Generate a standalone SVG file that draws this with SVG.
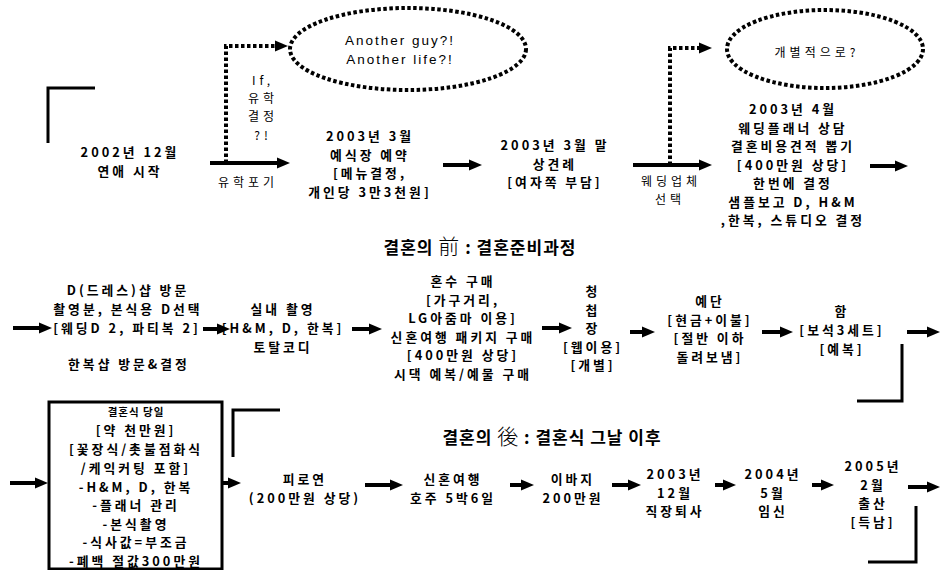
<svg xmlns="http://www.w3.org/2000/svg" width="941" height="570" viewBox="0 0 941 570">
<defs>
<marker id="ah" markerUnits="userSpaceOnUse" markerWidth="14" markerHeight="12" refX="4" refY="6" orient="auto">
<path d="M0,0.5 L13,6 L0,11.5 z" fill="#000"/>
</marker>
<style>
.t{font-family:"Noto Sans CJK KR","Noto Sans",sans-serif;font-weight:bold;font-size:12.8px;letter-spacing:3px;text-anchor:middle;fill:#000}
.l{font-family:"Noto Sans CJK KR","Noto Sans",sans-serif;font-weight:normal;font-size:12px;letter-spacing:4px;text-anchor:middle;fill:#000}
.e{font-family:"Liberation Sans","Noto Sans CJK KR",sans-serif;font-size:13.5px;letter-spacing:2px;text-anchor:middle;fill:#000}
.h{font-family:"Noto Sans CJK KR",sans-serif;font-weight:bold;font-size:17px;letter-spacing:1px;text-anchor:middle;fill:#000}
.hz{font-family:"Noto Sans CJK KR",sans-serif;font-weight:300;font-size:21px}
.s{stroke:#000;stroke-width:4;fill:none}
.d{stroke:#000;stroke-width:4;fill:none;stroke-dasharray:3.5 2.5}
.a{marker-end:url(#ah)}
.b{stroke:#000;stroke-width:3;fill:none}
</style>
</defs>
<rect width="941" height="570" fill="#fff"/>

<g id="decor">
<path class="b" d="M48,143 L48,88 L95,88"/>
<path class="b" d="M902,344 L902,401 L857,401"/>
<path class="b" d="M233,457 L233,410 L280,410"/>
<path class="b" d="M916,506 L916,562 L868,562"/>
</g>

<g id="connectors">
<path class="s a" d="M210,163 L281,163"/>
<path class="d a" d="M226,163 L226,46 L279,46"/>
<path class="s a" d="M443,165 L473,165"/>
<path class="s a" d="M633,165 L703,165"/>
<path class="d a" d="M670,165 L670,48 L703,48"/>
<path class="s a" d="M870,166 L899,166"/>
<path class="s a" d="M13,328 L43,328"/>
<path class="s a" d="M203,329 L221,329"/>
<path class="s a" d="M352,329 L373,329"/>
<path class="s a" d="M542,328 L563,328"/>
<path class="s a" d="M630,332 L646,332"/>
<path class="s a" d="M762,332 L784,332"/>
<path class="s a" d="M907,332 L931,332"/>
<path class="s a" d="M10,483 L39,483"/>
<path class="s a" d="M222,483 L232,483"/>
<path class="s a" d="M365,485 L394,485"/>
<path class="s a" d="M510,485 L525,485"/>
<path class="s a" d="M612,485 L632,485"/>
<path class="s a" d="M715,485 L727,485"/>
<path class="s a" d="M812,485 L825,485"/>
<path class="s a" d="M908,487 L931,487"/>
</g>

<g id="label-yuhak">
<text class="l"><tspan x="263" y="85">If,</tspan><tspan x="263" y="103">유학</tspan><tspan x="263" y="121">결정</tspan><tspan x="263" y="140">?!</tspan></text>
<text class="l" x="248" y="187">유학포기</text>
</g>
<g id="label-wedding">
<text class="l"><tspan x="671" y="186">웨딩업체</tspan><tspan x="670" y="204">선택</tspan></text>
</g>

<g id="ellipse1">
<ellipse class="d" cx="408" cy="49" rx="118" ry="41"/>
<text class="e"><tspan x="400" y="45">Another guy?!</tspan><tspan x="400" y="64">Another life?!</tspan></text>
</g>
<g id="ellipse2">
<ellipse class="d" cx="825" cy="49" rx="98" ry="39"/>
<text class="l" x="817" y="57">개별적으로?</text>
</g>

<g id="n1">
<text class="t"><tspan x="130" y="157">2002년 12월</tspan><tspan x="130" y="176">연애 시작</tspan></text>
</g>
<g id="n2">
<text class="t"><tspan x="370" y="141">2003년 3월</tspan><tspan x="370" y="159.5">예식장 예약</tspan><tspan x="370" y="178">[메뉴결정,</tspan><tspan x="370" y="196.5">개인당 3만3천원]</tspan></text>
</g>
<g id="n3">
<text class="t"><tspan x="555" y="150">2003년 3월 말</tspan><tspan x="555" y="168.5">상견례</tspan><tspan x="555" y="187">[여자쪽 부담]</tspan></text>
</g>
<g id="n4">
<text class="t"><tspan x="793" y="114">2003년 4월</tspan><tspan x="793" y="132.5">웨딩플래너 상담</tspan><tspan x="793" y="151">결혼비용견적 뽑기</tspan><tspan x="793" y="169.5">[400만원 상당]</tspan><tspan x="793" y="188">한번에 결정</tspan><tspan x="793" y="206.5">샘플보고 D, H&amp;M</tspan><tspan x="793" y="225">,한복, 스튜디오 결정</tspan></text>
</g>

<g id="header-before">
<text class="h" x="480" y="254">결혼의 <tspan class="hz">前</tspan> : 결혼준비과정</text>
</g>

<g id="n5">
<text class="t"><tspan x="128" y="295">D(드레스)샵 방문</tspan><tspan x="128" y="314">촬영분, 본식용 D선택</tspan><tspan x="127" y="333">[웨딩D 2, 파티복 2]</tspan></text>
<text class="t" x="129" y="369">한복샵 방문&amp;결정</text>
</g>
<g id="n6">
<text class="t"><tspan x="283" y="314">실내 촬영</tspan><tspan x="283" y="333">[H&amp;M, D, 한복]</tspan><tspan x="283" y="352">토탈코디</tspan></text>
</g>
<g id="n7">
<text class="t"><tspan x="463" y="286">혼수 구매</tspan><tspan x="463" y="304.5">[가구거리,</tspan><tspan x="463" y="323">LG아줌마 이용]</tspan><tspan x="463" y="341.5">신혼여행 패키지 구매</tspan><tspan x="463" y="360">[400만원 상당]</tspan><tspan x="463" y="378.5">시댁 예복/예물 구매</tspan></text>
</g>
<g id="n8">
<text class="t"><tspan x="593" y="296">청</tspan><tspan x="593" y="314.5">첩</tspan><tspan x="593" y="333">장</tspan><tspan x="593" y="351.5">[웹이용]</tspan><tspan x="593" y="370">[개별]</tspan></text>
</g>
<g id="n9">
<text class="t"><tspan x="710" y="306">예단</tspan><tspan x="710" y="324.5">[현금+이불]</tspan><tspan x="710" y="343">[절반 이하</tspan><tspan x="710" y="361.5">돌려보냄]</tspan></text>
</g>
<g id="n10">
<text class="t"><tspan x="842" y="316">함</tspan><tspan x="842" y="335">[보석3세트]</tspan><tspan x="842" y="354">[예복]</tspan></text>
</g>

<g id="header-after">
<text class="h" x="552" y="444">결혼의 <tspan class="hz">後</tspan> : 결혼식 그날 이후</text>
</g>

<g id="n11">
<rect x="49" y="402" width="173" height="167" fill="none" stroke="#000" stroke-width="3"/>
<text class="t"><tspan x="136" y="416" style="font-size:10.5px;letter-spacing:1px">결혼식 당일</tspan><tspan x="136" y="435">[약 천만원]</tspan><tspan x="136" y="454">[꽃장식/촛불점화식</tspan><tspan x="136" y="473">/케익커팅 포함]</tspan><tspan x="136" y="491.5">-H&amp;M, D, 한복</tspan><tspan x="136" y="510">-플래너 관리</tspan><tspan x="136" y="528.5">-본식촬영</tspan><tspan x="136" y="547">-식사값=부조금</tspan><tspan x="136" y="565.5">-폐백 절값300만원</tspan></text>
</g>
<g id="n12">
<text class="t"><tspan x="305" y="484">피로연</tspan><tspan x="305" y="503">(200만원 상당)</tspan></text>
</g>
<g id="n13">
<text class="t"><tspan x="453" y="484">신혼여행</tspan><tspan x="453" y="503">호주 5박6일</tspan></text>
</g>
<g id="n14">
<text class="t"><tspan x="573" y="484">이바지</tspan><tspan x="573" y="503">200만원</tspan></text>
</g>
<g id="n15">
<text class="t"><tspan x="675" y="479">2003년</tspan><tspan x="675" y="497.5">12월</tspan><tspan x="675" y="516">직장퇴사</tspan></text>
</g>
<g id="n16">
<text class="t"><tspan x="773" y="479">2004년</tspan><tspan x="773" y="497.5">5월</tspan><tspan x="773" y="516">임신</tspan></text>
</g>
<g id="n17">
<text class="t"><tspan x="873" y="471">2005년</tspan><tspan x="873" y="489.5">2월</tspan><tspan x="873" y="508">출산</tspan><tspan x="873" y="526.5">[득남]</tspan></text>
</g>
</svg>
